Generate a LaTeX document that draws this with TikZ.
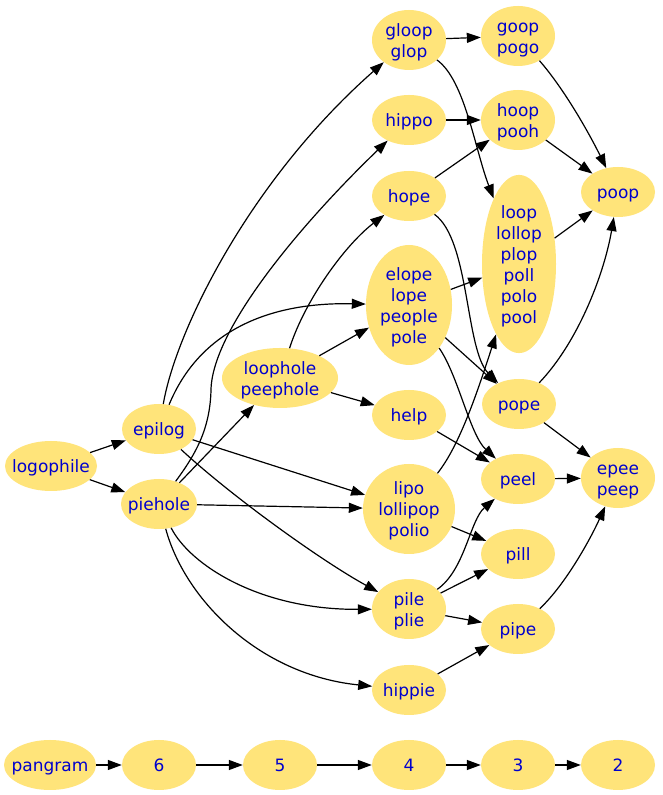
\documentclass[tikz,border=0pt]{standalone}
\usepackage{fontspec}
\setmainfont{DejaVu Sans}
\usetikzlibrary{shapes.geometric,arrows.meta}
\definecolor{nodefill}{RGB}{255,228,122}
\definecolor{nodetext}{RGB}{0,0,205}
\newcommand\zw[1]{\makebox[0pt]{\raisebox{-2.5pt}[\height][\depth]{\begin{tabular}{@{}c@{}}#1\end{tabular}}}}
\begin{document}
\begin{tikzpicture}[x=1pt,y=1pt,
  wnode/.style={ellipse, fill=nodefill, text=nodetext, inner sep=0pt,
    minimum width=74pt, minimum height=50pt, font=\fontsize{17}{21}\selectfont},
  conn/.style={draw, line width=1.2pt, -{Triangle[length=14pt,width=10pt]}}
]
\path[use as bounding box, fill=white] (0,0) rectangle (662,795);

% nodes
\node[wnode, minimum width=92pt] (logophile) at (51,329) {\zw{logophile}};
\node[wnode] (epilog) at (159,366) {\zw{epilog}};
\node[wnode, minimum width=76pt] (piehole) at (159,291) {\zw{piehole}};
\node[wnode, minimum width=116pt, minimum height=60pt] (loophole) at (280,417) {\zw{loophole\\peephole}};
\node[wnode, minimum height=60pt] (gloop) at (409,755) {\zw{gloop\\glop}};
\node[wnode] (hippo) at (409,675) {\zw{hippo}};
\node[wnode] (hope) at (409,599) {\zw{hope}};
\node[wnode, minimum width=86pt, minimum height=120pt] (elope) at (409,490) {\zw{elope\\lope\\people\\pole}};
\node[wnode] (help) at (409,380) {\zw{help}};
\node[wnode, minimum width=92pt, minimum height=90pt] (lipo) at (409,286) {\zw{lipo\\lollipop\\polio}};
\node[wnode, minimum height=60pt] (pile) at (409,186) {\zw{pile\\plie}};
\node[wnode] (hippie) at (409,105) {\zw{hippie}};
\node[wnode, minimum height=60pt] (goop) at (518,759) {\zw{goop\\pogo}};
\node[wnode, minimum height=60pt] (hoop) at (518,675) {\zw{hoop\\pooh}};
\node[wnode, minimum height=178pt] (loop) at (519,531) {\zw{loop\\lollop\\plop\\poll\\polo\\pool}};
\node[wnode] (poop) at (618,603) {\zw{poop}};
\node[wnode] (pope) at (519,391) {\zw{pope}};
\node[wnode] (peel) at (518,316) {\zw{peel}};
\node[wnode] (pill) at (518,241) {\zw{pill}};
\node[wnode] (pipe) at (518,166) {\zw{pipe}};
\node[wnode, minimum height=60pt] (epee) at (618,317) {\zw{epee\\peep}};

\node[wnode, minimum width=92pt] (pangram) at (50,30) {\zw{pangram}};
\node[wnode] (n6) at (159,30) {\zw{6}};
\node[wnode] (n5) at (280,30) {\zw{5}};
\node[wnode] (n4) at (409,30) {\zw{4}};
\node[wnode] (n3) at (518,30) {\zw{3}};
\node[wnode] (n2) at (618,30) {\zw{2}};

% edges
\draw[conn] (logophile) -- (epilog);
\draw[conn] (logophile) -- (piehole);
\draw[conn] (epilog) .. controls (176,465) and (250,615) .. (gloop);
\draw[conn] (epilog) .. controls (200,465) and (270,493) .. (elope);
\draw[conn] (epilog) -- (lipo);
\draw[conn] (epilog) .. controls (230,300) and (320,235) .. (pile);
\draw[conn] (piehole) .. controls (195,340) and (210,365) .. (211,405)
   .. controls (212,465) and (300,570) .. (hippo);
\draw[conn] (piehole) -- (loophole);
\draw[conn] (piehole) -- (lipo);
\draw[conn] (piehole) .. controls (190,230) and (260,185) .. (pile);
\draw[conn] (piehole) .. controls (185,195) and (260,120) .. (hippie);
\draw[conn] (loophole) .. controls (305,495) and (345,550) .. (hope);
\draw[conn] (loophole) -- (elope);
\draw[conn] (loophole) -- (help);
\draw[conn] (gloop) -- (goop);
\draw[conn] (gloop) .. controls (465,715) and (475,645) .. (loop);
\draw[conn] (hippo) -- (hoop);
\draw[conn] (hope) -- (hoop);
\draw[conn] (hope) .. controls (470,555) and (465,445) .. (pope);
\draw[conn] (elope) -- (loop);
\draw[conn] (elope) -- (pope);
\draw[conn] (elope) .. controls (458,420) and (470,360) .. (peel);
\draw[conn] (help) -- (peel);
\draw[conn] (lipo) .. controls (460,350) and (478,405) .. (loop);
\draw[conn] (lipo) -- (pill);
\draw[conn] (pile) .. controls (465,225) and (470,275) .. (peel);
\draw[conn] (pile) -- (pill);
\draw[conn] (pile) -- (pipe);
\draw[conn] (hippie) -- (pipe);
\draw[conn] (goop) .. controls (565,705) and (590,660) .. (poop);
\draw[conn] (hoop) -- (poop);
\draw[conn] (loop) -- (poop);
\draw[conn] (pope) .. controls (580,455) and (605,525) .. (poop);
\draw[conn] (pope) -- (epee);
\draw[conn] (peel) -- (epee);
\draw[conn] (pipe) .. controls (565,210) and (590,255) .. (epee);

\draw[conn] (pangram) -- (n6);
\draw[conn] (n6) -- (n5);
\draw[conn] (n5) -- (n4);
\draw[conn] (n4) -- (n3);
\draw[conn] (n3) -- (n2);
\end{tikzpicture}
\end{document}
